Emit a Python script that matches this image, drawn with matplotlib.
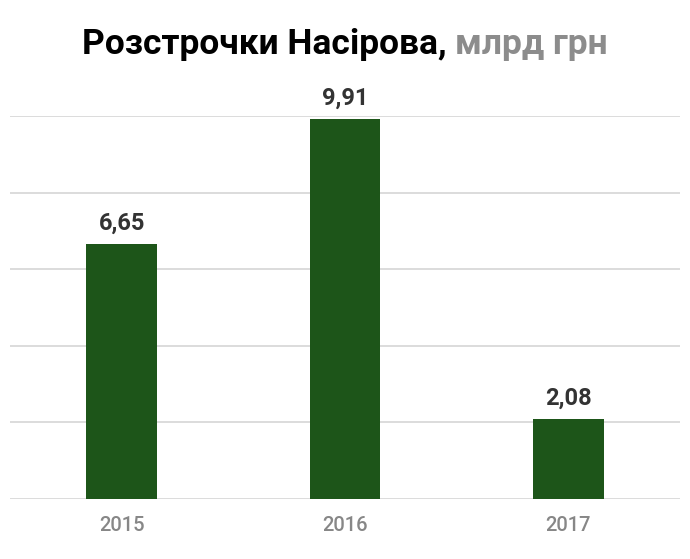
import matplotlib
matplotlib.use("Agg")
from matplotlib import pyplot as plt
import numpy as np

years = ["2015", "2016", "2017"]
values = [6.65, 9.91, 2.08]
labels = ["6,65", "9,91", "2,08"]
grid_ticks = [0, 2, 4, 6, 8, 10]

plt.rcParams['font.family'] = ['Roboto', 'DejaVu Sans']

fig = plt.figure(figsize=(6.9, 5.59), dpi=100)
ax = fig.add_axes([10/690, 60/559, 670/690, 383/559])

x = np.arange(len(years))
ax.bar(x, values, width=0.315, color="#1d5519", zorder=3)
ax.set_xlim(-0.5, 2.5)
ax.set_ylim(0, 10)
ax.set_yticks(grid_ticks)
ax.yaxis.grid(True, color="#d9d9d9", linewidth=1.3, zorder=0)
ax.tick_params(axis='y', left=False, labelleft=False)
ax.tick_params(axis='x', bottom=False, pad=9, labelsize=14.5, labelcolor="#878787")
ax.set_xticks(x)
ax.set_xticklabels(years, fontweight="medium")
for s in ax.spines.values():
    s.set_visible(False)

for xi, v, lab in zip(x, values, labels):
    ax.annotate(lab, (xi, v), xytext=(0, 7), textcoords="offset points",
                ha="center", va="bottom", fontsize=17, fontweight="bold",
                color="#333333", clip_on=False)

# two-colour title
r = fig.canvas.get_renderer()
t1 = fig.text(0, 0, "Розстрочки Насірова, ", fontsize=25.5, fontweight="bold", color="#000000")
t2 = fig.text(0, 0, "млрд грн", fontsize=25.5, fontweight="bold", color="#8c8c8c")
w1 = t1.get_window_extent(r).width
w2 = t2.get_window_extent(r).width
x0 = (690 - w1 - w2) / 2
ybase = 1 - 54/559
t1.set_position((x0/690, ybase))
t2.set_position(((x0 + w1)/690, ybase))

fig.savefig("out.png", dpi=100, facecolor="white")
